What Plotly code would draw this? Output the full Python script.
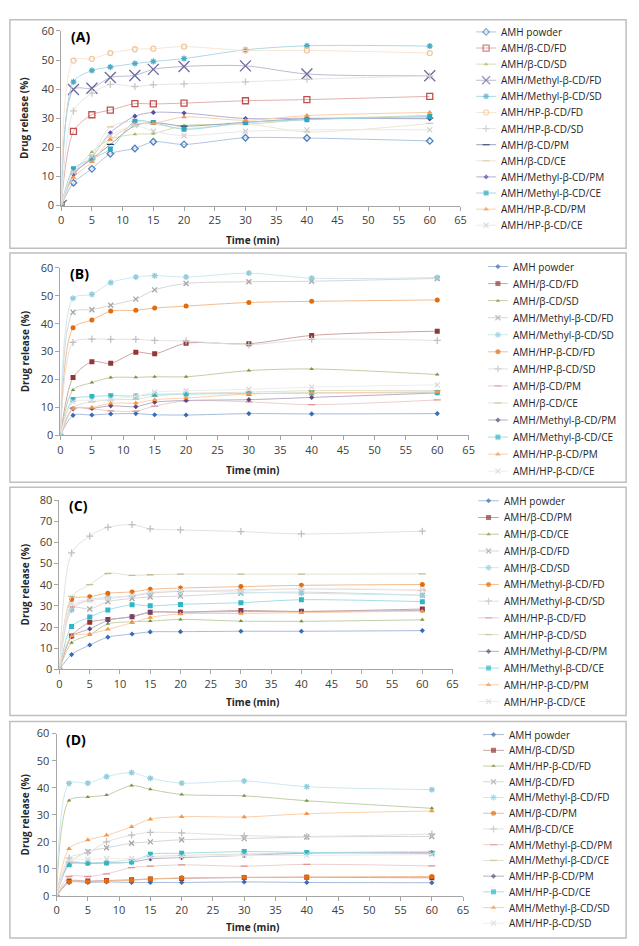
import plotly.graph_objects as go

W, H = 639, 946

TIME = [0, 2, 5, 8, 12, 15, 20, 30, 40, 60]
X_TICKS = list(range(0, 70, 5))

NAMES_A = ["AMH powder", "AMH/β-CD/FD", "AMH/β-CD/SD", "AMH/Methyl-β-CD/FD", "AMH/Methyl-β-CD/SD",
           "AMH/HP-β-CD/FD", "AMH/HP-β-CD/SD", "AMH/β-CD/PM", "AMH/β-CD/CE", "AMH/Methyl-β-CD/PM",
           "AMH/Methyl-β-CD/CE", "AMH/HP-β-CD/PM", "AMH/HP-β-CD/CE"]
NAMES_B = list(NAMES_A)
NAMES_C = ["AMH powder", "AMH/β-CD/PM", "AMH/β-CD/CE", "AMH/β-CD/FD", "AMH/β-CD/SD",
           "AMH/Methyl-β-CD/FD", "AMH/Methyl-β-CD/SD", "AMH/HP-β-CD/FD", "AMH/HP-β-CD/SD",
           "AMH/Methyl-β-CD/PM", "AMH/Methyl-β-CD/CE", "AMH/HP-β-CD/PM", "AMH/HP-β-CD/CE"]
NAMES_D = ["AMH powder", "AMH/β-CD/SD", "AMH/HP-β-CD/FD", "AMH/β-CD/FD", "AMH/Methyl-β-CD/FD",
           "AMH/β-CD/PM", "AMH/β-CD/CE", "AMH/Methyl-β-CD/PM", "AMH/Methyl-β-CD/CE",
           "AMH/HP-β-CD/PM", "AMH/HP-β-CD/CE", "AMH/Methyl-β-CD/SD", "AMH/HP-β-CD/SD"]

VALUES_A = [
    [0, 7.8, 12.6, 17.8, 19.6, 21.9, 21.0, 23.3, 23.2, 22.2],
    [0, 25.5, 31.2, 32.8, 35.0, 34.9, 35.2, 36.0, 36.4, 37.5],
    [0, 10.6, 18.4, 22.8, 24.5, 24.7, 27.5, 27.9, 29.5, 31.0],
    [0, 39.9, 40.3, 44.0, 44.7, 46.8, 47.8, 48.0, 45.2, 44.6],
    [0, 42.5, 46.4, 47.6, 48.8, 49.5, 50.5, 53.5, 54.9, 54.8],
    [0, 49.8, 50.4, 52.4, 53.7, 53.9, 54.6, 53.3, 53.3, 52.4],
    [0, 32.5, 38.6, 41.6, 40.9, 41.5, 41.8, 42.5, 43.4, 44.5],
    [0, 10.8, 16.0, 21.0, 27.5, 28.5, 27.3, 28.6, 29.8, 30.0],
    [0, 11.5, 17.2, 27.0, 29.0, 28.0, 26.5, 28.0, 25.3, 28.2],
    [0, 10.6, 16.6, 25.0, 30.7, 32.0, 31.8, 29.9, 30.0, 29.8],
    [0, 12.6, 16.0, 19.4, 29.0, 28.5, 26.2, 28.5, 29.5, 30.6],
    [0, 9.6, 15.0, 22.6, 27.9, 28.2, 30.4, 29.3, 30.9, 32.0],
    [0, 11.5, 17.0, 24.0, 27.5, 25.5, 24.0, 25.5, 26.0, 26.0],
]
VALUES_B = [
    [0, 7.2, 7.3, 7.7, 7.8, 7.4, 7.3, 7.8, 7.7, 7.8],
    [0, 20.7, 26.4, 25.8, 29.8, 29.2, 33.0, 32.8, 35.8, 37.3],
    [0, 16.3, 18.9, 20.7, 20.8, 21.0, 21.0, 23.2, 23.8, 21.8],
    [0, 44.1, 45.0, 46.6, 48.8, 52.1, 54.4, 55.0, 55.2, 56.2],
    [0, 49.1, 50.5, 54.7, 56.7, 57.2, 56.7, 58.1, 56.3, 56.5],
    [0, 38.5, 41.3, 44.5, 44.8, 45.6, 46.3, 47.6, 48.0, 48.5],
    [0, 33.3, 34.5, 34.4, 34.4, 34.0, 33.8, 32.5, 34.4, 34.0],
    [0, 9.7, 9.5, 8.8, 8.7, 10.5, 12.4, 12.0, 11.0, 12.7],
    [0, 10.0, 12.0, 12.7, 13.0, 14.0, 15.0, 15.5, 16.0, 16.0],
    [0, 9.5, 9.7, 10.6, 10.3, 11.9, 12.5, 12.8, 13.6, 15.2],
    [0, 12.9, 13.9, 14.2, 14.1, 14.7, 14.8, 15.0, 15.2, 15.3],
    [0, 9.5, 10.0, 11.5, 11.6, 12.8, 13.4, 14.8, 15.2, 15.6],
    [0, 12.0, 12.5, 13.0, 14.0, 15.5, 16.0, 16.5, 17.3, 18.1],
]
VALUES_C = [
    [0, 7.0, 11.5, 15.2, 16.7, 17.7, 17.8, 18.0, 18.0, 18.3],
    [0, 15.7, 22.3, 23.6, 24.8, 27.0, 27.0, 27.8, 27.4, 28.5],
    [0, 12.6, 16.3, 21.5, 22.5, 22.8, 23.6, 22.8, 22.7, 23.4],
    [0, 29.0, 28.5, 32.0, 33.5, 34.2, 34.6, 36.0, 36.5, 35.0],
    [0, 28.0, 33.0, 34.0, 34.8, 36.0, 36.8, 36.5, 36.0, 35.0],
    [0, 33.0, 34.3, 36.0, 36.6, 37.8, 38.4, 39.1, 39.7, 40.1],
    [0, 55.0, 63.0, 67.1, 68.4, 66.4, 65.9, 65.1, 64.0, 65.3],
    [0, 29.5, 32.5, 33.5, 34.7, 36.0, 37.0, 37.5, 38.0, 37.4],
    [0, 34.5, 40.0, 45.3, 44.4, 44.7, 45.0, 45.0, 45.0, 45.1],
    [0, 15.5, 19.1, 23.1, 25.0, 27.0, 27.0, 27.3, 27.3, 27.8],
    [0, 20.3, 24.7, 28.1, 30.5, 30.0, 30.7, 31.5, 32.9, 32.0],
    [0, 15.7, 16.7, 18.9, 22.0, 24.5, 26.2, 26.4, 26.8, 27.5],
    [0, 31.0, 32.8, 33.5, 35.0, 36.5, 37.3, 37.0, 38.2, 37.6],
]
VALUES_D = [
    [0, 5.0, 5.0, 5.2, 5.0, 5.0, 5.0, 5.2, 5.0, 4.9],
    [0, 5.5, 5.5, 5.7, 6.0, 6.3, 6.5, 6.8, 6.9, 6.7],
    [0, 35.3, 36.6, 37.3, 40.8, 39.4, 37.5, 37.0, 35.2, 32.4],
    [0, 12.0, 16.4, 17.8, 19.5, 20.0, 20.8, 21.2, 21.8, 22.0],
    [0, 41.6, 41.7, 44.1, 45.6, 43.5, 41.7, 42.5, 40.4, 39.3],
    [0, 5.2, 5.3, 5.5, 5.8, 6.3, 6.7, 6.9, 7.0, 7.2],
    [0, 14.0, 16.0, 20.0, 22.5, 23.5, 23.3, 22.3, 22.0, 22.9],
    [0, 7.2, 7.2, 8.2, 10.5, 11.0, 11.5, 11.0, 11.7, 11.1],
    [0, 12.5, 12.0, 12.5, 13.5, 14.5, 15.0, 15.5, 16.0, 16.5],
    [0, 11.8, 12.0, 12.2, 12.5, 13.7, 14.2, 15.0, 15.8, 16.0],
    [0, 11.5, 12.2, 12.2, 12.6, 15.4, 15.8, 16.4, 16.1, 15.7],
    [0, 17.5, 20.7, 22.4, 25.6, 28.4, 29.3, 29.2, 30.4, 31.4],
    [0, 13.0, 13.5, 13.8, 13.8, 14.3, 14.5, 15.0, 15.0, 15.3],
]

# ---- styles ----
COLORS_A = ["#4f81bd", "#c0504d", "#9bbb59", "#6b6b9c", "#4bacc6", "#f0c8a0", "#c8c8c8",
            "#1f3864", "#d8c8a0", "#5a4ea0", "#2ea8c2", "#f79646", "#d0d0d0"]
SYMBOLS_A = ["diamond-open", "square-open", "triangle-up", "x-thin-open", "asterisk-open", "circle-open",
             "cross-thin-open", "line-ew-open", "line-ew-open", "diamond", "square", "triangle-up", "x-thin-open"]
SIZES_A = [5, 6, 4, 11, 5, 5, 5, 5, 5, 4, 5, 5, 5]

COLORS_X = ["#3a6bb5", "#943634", "#77933c", "#a6a6a6", "#93cddd", "#e46c0a", "#c0c0c0",
            "#d99694", "#c4bd97", "#5f497a", "#31b6c6", "#f79646", "#d9d9d9"]
SYMBOLS_X = ["diamond", "square", "triangle-up", "x-thin-open", "asterisk-open", "circle",
             "cross-thin-open", "line-ew-open", "line-ew-open", "diamond", "square", "triangle-up", "x-thin-open"]
SIZES_X = [4, 5, 4, 5, 5, 5, 5, 5, 5, 4, 5, 5, 5]


def lighten(hexc, f):
    hexc = hexc.lstrip("#")
    r, g, b = int(hexc[0:2], 16), int(hexc[2:4], 16), int(hexc[4:6], 16)
    r = int(r + (255 - r) * f); g = int(g + (255 - g) * f); b = int(b + (255 - b) * f)
    return f"rgb({r},{g},{b})"


FONT = "Open Sans"

# panel geometry (pixels)
PANELS = [
    dict(names=NAMES_A, vals=VALUES_A, colors=COLORS_A, symbols=SYMBOLS_A, sizes=SIZES_A,
         l=59, r=464, t=23.3, b=200.7, ymax=60, bt=12, bb=244, ty=236,
         lg0=480, lg1=500, ltx=503, ly0=24.3, ldy=16.37, label="(A)"),
    dict(names=NAMES_B, vals=VALUES_B, colors=COLORS_X, symbols=SYMBOLS_X, sizes=SIZES_X,
         l=58.3, r=472.3, t=264, b=434.3, ymax=60, bt=249, bb=482, ty=469,
         lg0=492, lg1=512, ltx=515, ly0=262.7, ldy=17.33, label="(B)"),
    dict(names=NAMES_C, vals=VALUES_C, colors=COLORS_X, symbols=SYMBOLS_X, sizes=SIZES_X,
         l=57.3, r=456, t=500, b=672, ymax=80, bt=487, bb=719, ty=705,
         lg0=482, lg1=503, ltx=506, ly0=500.7, ldy=17.0, label="(C)"),
    dict(names=NAMES_D, vals=VALUES_D, colors=COLORS_X, symbols=SYMBOLS_X, sizes=SIZES_X,
         l=54.3, r=466.7, t=737.3, b=902.3, ymax=60, bt=725, bb=945, ty=934,
         lg0=487, lg1=508, ltx=511, ly0=738.3, ldy=15.98, label="(D)"),
]

fig = go.Figure()
layout = dict(width=W, height=H, margin=dict(l=0, r=0, t=0, b=0),
              paper_bgcolor="white", plot_bgcolor="rgba(0,0,0,0)", showlegend=False,
              font=dict(family=FONT, color="#404040"), shapes=[], annotations=[])

# overlay pixel axes for the hand-built legends
layout["xaxis5"] = dict(domain=[0, 1], range=[0, W], visible=False, fixedrange=True, anchor="y5")
layout["yaxis5"] = dict(domain=[0, 1], range=[H, 0], visible=False, fixedrange=True, anchor="x5")

for i, p in enumerate(PANELS):
    k = "" if i == 0 else str(i + 1)
    xa, ya = "x" + k, "y" + k
    for j, (nm, v) in enumerate(zip(p["names"], p["vals"])):
        c = p["colors"][j]
        sym = p["symbols"][j]
        lc = lighten(c, 0.55)
        mk = dict(symbol=sym, size=p["sizes"][j], color=c,
                  line=dict(color=c, width=1.3 if "open" in sym else 0))
        fig.add_trace(go.Scatter(
            x=TIME, y=v, name=nm, xaxis=xa, yaxis=ya, mode="lines+markers",
            line=dict(color=lc, width=1, shape="spline", smoothing=0.8), marker=mk,
            hoverinfo="x+y+name"))
        # legend entry
        yy = p["ly0"] + j * p["ldy"]
        lmk = dict(mk)
        lmk["size"] = [0, min(p["sizes"][j], 8), 0]
        fig.add_trace(go.Scatter(
            x=[p["lg0"], (p["lg0"] + p["lg1"]) / 2, p["lg1"]], y=[yy, yy, yy],
            xaxis="x5", yaxis="y5", mode="lines+markers", hoverinfo="skip",
            line=dict(color=lc, width=1), marker=lmk))
        layout["annotations"].append(dict(text=nm, xref="paper", yref="paper",
                                          x=p["ltx"] / W, y=1 - yy / H, xanchor="left",
                                          yanchor="middle", showarrow=False,
                                          font=dict(size=10, color="#262626")))
    layout["xaxis" + k] = dict(domain=[p["l"] / W, p["r"] / W], anchor=ya, range=[0, 65],
                               tickvals=X_TICKS, showgrid=False, zeroline=False, showline=True,
                               linecolor="#a6a6a6", ticks="outside", ticklen=4, tickcolor="#a6a6a6",
                               tickfont=dict(size=11, color="#404040"), fixedrange=True)
    layout["yaxis" + k] = dict(domain=[1 - p["b"] / H, 1 - p["t"] / H], anchor=xa,
                               range=[0, p["ymax"]], dtick=10, showgrid=False, zeroline=False,
                               showline=True, linecolor="#a6a6a6", ticks="outside", ticklen=4,
                               tickcolor="#a6a6a6", tickfont=dict(size=11, color="#404040"),
                               fixedrange=True)
    layout["shapes"].append(dict(type="rect", xref="paper", yref="paper",
                                 x0=7 / W, x1=632 / W, y0=1 - p["bb"] / H, y1=1 - p["bt"] / H,
                                 line=dict(color="#bfbfbf", width=1.5)))
    layout["annotations"].append(dict(text="<b>" + p["label"] + "</b>", xref="paper", yref="paper",
                                      x=(p["l"] + 8) / W, y=1 - (p["t"] + 6) / H, xanchor="left",
                                      yanchor="middle", showarrow=False,
                                      font=dict(size=14, color="#000000")))
    layout["annotations"].append(dict(text="<b>Drug release (%)</b>", xref="paper", yref="paper",
                                      x=22 / W, y=1 - ((p["t"] + p["b"]) / 2) / H, textangle=-90,
                                      xanchor="center", yanchor="middle",
                                      showarrow=False, font=dict(size=10, color="#262626")))
    layout["annotations"].append(dict(text="<b>Time (min)</b>", xref="paper", yref="paper",
                                      x=253 / W, y=1 - p["ty"] / H, xanchor="center",
                                      yanchor="middle", showarrow=False,
                                      font=dict(size=10, color="#262626")))

fig.update_layout(**layout)
fig.write_html("out.html")
